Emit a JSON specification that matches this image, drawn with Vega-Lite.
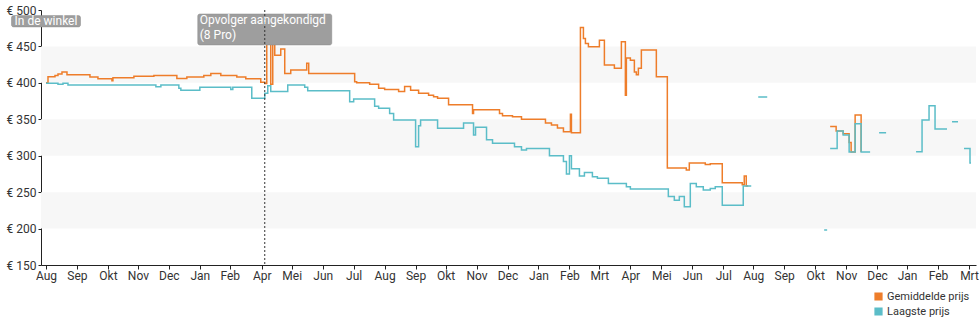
{
  "$schema": "https://vega.github.io/schema/vega-lite/v6.json",
  "width": 935,
  "height": 255,
  "autosize": {"type": "none"},
  "padding": {"left": 41, "top": 10, "right": 4, "bottom": 60},
  "background": "white",
  "config": {
    "view": {"stroke": null},
    "font": "Roboto",
    "axis": {"labelFont": "Roboto", "labelFontSize": 12, "labelColor": "#333333", "domainColor": "#222222", "tickColor": "#222222", "grid": false, "title": null, "labelOverlap": false, "labelFlush": false, "labelBound": false},
    "legend": {"labelFont": "Roboto"}
  },
  "layer": [
    {
      "data": {"values": [{"lo": 200, "hi": 250}, {"lo": 300, "hi": 350}, {"lo": 400, "hi": 450}]},
      "mark": {"type": "rect", "color": "#f7f7f7"},
      "encoding": {
        "y": {"field": "lo", "type": "quantitative", "scale": {"domain": [150, 500], "nice": false, "zero": false},
          "axis": {"values": [150, 200, 250, 300, 350, 400, 450, 500], "tickCount": 100, "labelExpr": "'€ ' + datum.value", "tickSize": 3, "labelPadding": 2, "domainWidth": 1, "labelOverlap": false}},
        "y2": {"field": "hi"}
      }
    },
    {
      "data": {"values": [
        {"d": "2016-08-28", "s": "Gemiddelde prijs", "p": 400},
        {"d": "2016-08-30", "s": "Gemiddelde prijs", "p": 408.5},
        {"d": "2016-09-06", "s": "Gemiddelde prijs", "p": 410},
        {"d": "2016-09-09", "s": "Gemiddelde prijs", "p": 412},
        {"d": "2016-09-13", "s": "Gemiddelde prijs", "p": 415},
        {"d": "2016-09-18", "s": "Gemiddelde prijs", "p": 411},
        {"d": "2016-10-11", "s": "Gemiddelde prijs", "p": 408},
        {"d": "2016-10-19", "s": "Gemiddelde prijs", "p": 405.5},
        {"d": "2016-11-02", "s": "Gemiddelde prijs", "p": 403},
        {"d": "2016-11-03", "s": "Gemiddelde prijs", "p": 407},
        {"d": "2016-11-24", "s": "Gemiddelde prijs", "p": 409},
        {"d": "2016-12-14", "s": "Gemiddelde prijs", "p": 410},
        {"d": "2017-01-06", "s": "Gemiddelde prijs", "p": 406},
        {"d": "2017-01-16", "s": "Gemiddelde prijs", "p": 408},
        {"d": "2017-02-02", "s": "Gemiddelde prijs", "p": 410},
        {"d": "2017-02-09", "s": "Gemiddelde prijs", "p": 413},
        {"d": "2017-02-19", "s": "Gemiddelde prijs", "p": 410},
        {"d": "2017-03-07", "s": "Gemiddelde prijs", "p": 408},
        {"d": "2017-03-16", "s": "Gemiddelde prijs", "p": 405.5},
        {"d": "2017-03-31", "s": "Gemiddelde prijs", "p": 401},
        {"d": "2017-04-04", "s": "Gemiddelde prijs", "p": 399},
        {"d": "2017-04-06", "s": "Gemiddelde prijs", "p": 454},
        {"d": "2017-04-10", "s": "Gemiddelde prijs", "p": 398},
        {"d": "2017-04-12", "s": "Gemiddelde prijs", "p": 454},
        {"d": "2017-04-14", "s": "Gemiddelde prijs", "p": 438},
        {"d": "2017-04-20", "s": "Gemiddelde prijs", "p": 446.5},
        {"d": "2017-04-24", "s": "Gemiddelde prijs", "p": 413},
        {"d": "2017-04-30", "s": "Gemiddelde prijs", "p": 417.6},
        {"d": "2017-05-16", "s": "Gemiddelde prijs", "p": 427},
        {"d": "2017-05-18", "s": "Gemiddelde prijs", "p": 413},
        {"d": "2017-07-03", "s": "Gemiddelde prijs", "p": 401.6},
        {"d": "2017-07-05", "s": "Gemiddelde prijs", "p": 400},
        {"d": "2017-07-18", "s": "Gemiddelde prijs", "p": 398},
        {"d": "2017-07-27", "s": "Gemiddelde prijs", "p": 392.5},
        {"d": "2017-08-02", "s": "Gemiddelde prijs", "p": 391},
        {"d": "2017-08-16", "s": "Gemiddelde prijs", "p": 388},
        {"d": "2017-08-22", "s": "Gemiddelde prijs", "p": 395},
        {"d": "2017-08-28", "s": "Gemiddelde prijs", "p": 390},
        {"d": "2017-09-05", "s": "Gemiddelde prijs", "p": 385.6},
        {"d": "2017-09-15", "s": "Gemiddelde prijs", "p": 383},
        {"d": "2017-09-20", "s": "Gemiddelde prijs", "p": 381},
        {"d": "2017-09-24", "s": "Gemiddelde prijs", "p": 379},
        {"d": "2017-10-05", "s": "Gemiddelde prijs", "p": 370},
        {"d": "2017-10-29", "s": "Gemiddelde prijs", "p": 358},
        {"d": "2017-10-30", "s": "Gemiddelde prijs", "p": 363},
        {"d": "2017-11-25", "s": "Gemiddelde prijs", "p": 358},
        {"d": "2017-11-28", "s": "Gemiddelde prijs", "p": 355},
        {"d": "2017-12-08", "s": "Gemiddelde prijs", "p": 353.6},
        {"d": "2017-12-17", "s": "Gemiddelde prijs", "p": 350},
        {"d": "2018-01-10", "s": "Gemiddelde prijs", "p": 345},
        {"d": "2018-01-16", "s": "Gemiddelde prijs", "p": 342},
        {"d": "2018-01-22", "s": "Gemiddelde prijs", "p": 338},
        {"d": "2018-01-28", "s": "Gemiddelde prijs", "p": 333},
        {"d": "2018-02-04", "s": "Gemiddelde prijs", "p": 357},
        {"d": "2018-02-05", "s": "Gemiddelde prijs", "p": 331.6},
        {"d": "2018-02-14", "s": "Gemiddelde prijs", "p": 476},
        {"d": "2018-02-17", "s": "Gemiddelde prijs", "p": 461},
        {"d": "2018-02-19", "s": "Gemiddelde prijs", "p": 454},
        {"d": "2018-02-22", "s": "Gemiddelde prijs", "p": 449.6},
        {"d": "2018-03-05", "s": "Gemiddelde prijs", "p": 458.5},
        {"d": "2018-03-10", "s": "Gemiddelde prijs", "p": 424.5},
        {"d": "2018-03-20", "s": "Gemiddelde prijs", "p": 420},
        {"d": "2018-03-27", "s": "Gemiddelde prijs", "p": 456.5},
        {"d": "2018-03-31", "s": "Gemiddelde prijs", "p": 383},
        {"d": "2018-04-01", "s": "Gemiddelde prijs", "p": 434},
        {"d": "2018-04-05", "s": "Gemiddelde prijs", "p": 431},
        {"d": "2018-04-09", "s": "Gemiddelde prijs", "p": 415},
        {"d": "2018-04-11", "s": "Gemiddelde prijs", "p": 411},
        {"d": "2018-04-13", "s": "Gemiddelde prijs", "p": 420},
        {"d": "2018-04-16", "s": "Gemiddelde prijs", "p": 445},
        {"d": "2018-05-01", "s": "Gemiddelde prijs", "p": 408.5},
        {"d": "2018-05-12", "s": "Gemiddelde prijs", "p": 283},
        {"d": "2018-05-31", "s": "Gemiddelde prijs", "p": 280.3},
        {"d": "2018-06-03", "s": "Gemiddelde prijs", "p": 290},
        {"d": "2018-06-19", "s": "Gemiddelde prijs", "p": 288},
        {"d": "2018-06-24", "s": "Gemiddelde prijs", "p": 289},
        {"d": "2018-07-06", "s": "Gemiddelde prijs", "p": 263},
        {"d": "2018-07-26", "s": "Gemiddelde prijs", "p": 260},
        {"d": "2018-07-28", "s": "Gemiddelde prijs", "p": 272},
        {"d": "2018-07-30", "s": "Gemiddelde prijs", "p": 258.5},
        {"d": "2018-08-01", "s": "Gemiddelde prijs", "p": 258.5},
        {"d": "2018-08-02", "s": "Gemiddelde prijs", "p": null},
        {"d": "2018-10-22", "s": "Gemiddelde prijs", "p": 340},
        {"d": "2018-10-28", "s": "Gemiddelde prijs", "p": 334},
        {"d": "2018-11-04", "s": "Gemiddelde prijs", "p": 330},
        {"d": "2018-11-10", "s": "Gemiddelde prijs", "p": 318},
        {"d": "2018-11-12", "s": "Gemiddelde prijs", "p": 305},
        {"d": "2018-11-16", "s": "Gemiddelde prijs", "p": 356},
        {"d": "2018-11-22", "s": "Gemiddelde prijs", "p": 305},
        {"d": "2016-08-28", "s": "Laagste prijs", "p": 399.4},
        {"d": "2016-09-09", "s": "Laagste prijs", "p": 398},
        {"d": "2016-09-14", "s": "Laagste prijs", "p": 399.4},
        {"d": "2016-09-19", "s": "Laagste prijs", "p": 397},
        {"d": "2016-12-16", "s": "Laagste prijs", "p": 394.8},
        {"d": "2016-12-21", "s": "Laagste prijs", "p": 397},
        {"d": "2017-01-08", "s": "Laagste prijs", "p": 392.5},
        {"d": "2017-01-10", "s": "Laagste prijs", "p": 390},
        {"d": "2017-01-29", "s": "Laagste prijs", "p": 394},
        {"d": "2017-03-01", "s": "Laagste prijs", "p": 391},
        {"d": "2017-03-03", "s": "Laagste prijs", "p": 394},
        {"d": "2017-03-22", "s": "Laagste prijs", "p": 378.8},
        {"d": "2017-04-04", "s": "Laagste prijs", "p": 385.6},
        {"d": "2017-04-07", "s": "Laagste prijs", "p": 396},
        {"d": "2017-04-10", "s": "Laagste prijs", "p": 388},
        {"d": "2017-04-27", "s": "Laagste prijs", "p": 397},
        {"d": "2017-05-14", "s": "Laagste prijs", "p": 394},
        {"d": "2017-05-17", "s": "Laagste prijs", "p": 389},
        {"d": "2017-06-28", "s": "Laagste prijs", "p": 374},
        {"d": "2017-07-02", "s": "Laagste prijs", "p": 378},
        {"d": "2017-07-23", "s": "Laagste prijs", "p": 368},
        {"d": "2017-07-27", "s": "Laagste prijs", "p": 365},
        {"d": "2017-08-07", "s": "Laagste prijs", "p": 358},
        {"d": "2017-08-11", "s": "Laagste prijs", "p": 349},
        {"d": "2017-09-02", "s": "Laagste prijs", "p": 312.4},
        {"d": "2017-09-05", "s": "Laagste prijs", "p": 341},
        {"d": "2017-09-07", "s": "Laagste prijs", "p": 349},
        {"d": "2017-09-24", "s": "Laagste prijs", "p": 337.6},
        {"d": "2017-10-20", "s": "Laagste prijs", "p": 345},
        {"d": "2017-10-30", "s": "Laagste prijs", "p": 328.4},
        {"d": "2017-11-01", "s": "Laagste prijs", "p": 339},
        {"d": "2017-11-12", "s": "Laagste prijs", "p": 322},
        {"d": "2017-11-18", "s": "Laagste prijs", "p": 317},
        {"d": "2017-12-10", "s": "Laagste prijs", "p": 312.4},
        {"d": "2017-12-17", "s": "Laagste prijs", "p": 308},
        {"d": "2017-12-22", "s": "Laagste prijs", "p": 310},
        {"d": "2018-01-14", "s": "Laagste prijs", "p": 300},
        {"d": "2018-01-28", "s": "Laagste prijs", "p": 292},
        {"d": "2018-01-31", "s": "Laagste prijs", "p": 275},
        {"d": "2018-02-03", "s": "Laagste prijs", "p": 300},
        {"d": "2018-02-05", "s": "Laagste prijs", "p": 282},
        {"d": "2018-02-13", "s": "Laagste prijs", "p": 272},
        {"d": "2018-02-18", "s": "Laagste prijs", "p": 277},
        {"d": "2018-02-26", "s": "Laagste prijs", "p": 271},
        {"d": "2018-03-03", "s": "Laagste prijs", "p": 269},
        {"d": "2018-03-14", "s": "Laagste prijs", "p": 262},
        {"d": "2018-04-01", "s": "Laagste prijs", "p": 257.5},
        {"d": "2018-04-05", "s": "Laagste prijs", "p": 254.3},
        {"d": "2018-05-13", "s": "Laagste prijs", "p": 244},
        {"d": "2018-05-19", "s": "Laagste prijs", "p": 239},
        {"d": "2018-05-24", "s": "Laagste prijs", "p": 244},
        {"d": "2018-05-29", "s": "Laagste prijs", "p": 230},
        {"d": "2018-06-04", "s": "Laagste prijs", "p": 262},
        {"d": "2018-06-10", "s": "Laagste prijs", "p": 257.5},
        {"d": "2018-06-17", "s": "Laagste prijs", "p": 253},
        {"d": "2018-06-24", "s": "Laagste prijs", "p": 255},
        {"d": "2018-06-29", "s": "Laagste prijs", "p": 257.5},
        {"d": "2018-07-06", "s": "Laagste prijs", "p": 232},
        {"d": "2018-07-27", "s": "Laagste prijs", "p": 258.5},
        {"d": "2018-08-04", "s": "Laagste prijs", "p": 258.5},
        {"d": "2018-08-05", "s": "Laagste prijs", "p": null},
        {"d": "2018-08-11", "s": "Laagste prijs", "p": 380.6},
        {"d": "2018-08-20", "s": "Laagste prijs", "p": 380.6},
        {"d": "2018-08-21", "s": "Laagste prijs", "p": null},
        {"d": "2018-10-16", "s": "Laagste prijs", "p": 198},
        {"d": "2018-10-19", "s": "Laagste prijs", "p": 198},
        {"d": "2018-10-20", "s": "Laagste prijs", "p": null},
        {"d": "2018-10-22", "s": "Laagste prijs", "p": 310},
        {"d": "2018-10-29", "s": "Laagste prijs", "p": 334},
        {"d": "2018-11-04", "s": "Laagste prijs", "p": 328.4},
        {"d": "2018-11-10", "s": "Laagste prijs", "p": 305},
        {"d": "2018-11-16", "s": "Laagste prijs", "p": 344},
        {"d": "2018-11-22", "s": "Laagste prijs", "p": 305},
        {"d": "2018-12-01", "s": "Laagste prijs", "p": 305},
        {"d": "2018-12-02", "s": "Laagste prijs", "p": null},
        {"d": "2018-12-10", "s": "Laagste prijs", "p": 331.6},
        {"d": "2018-12-17", "s": "Laagste prijs", "p": 331.6},
        {"d": "2018-12-18", "s": "Laagste prijs", "p": null},
        {"d": "2019-01-16", "s": "Laagste prijs", "p": 305.5},
        {"d": "2019-01-22", "s": "Laagste prijs", "p": 349},
        {"d": "2019-01-29", "s": "Laagste prijs", "p": 368.7},
        {"d": "2019-02-04", "s": "Laagste prijs", "p": 336.7},
        {"d": "2019-02-16", "s": "Laagste prijs", "p": 336.7},
        {"d": "2019-02-17", "s": "Laagste prijs", "p": null},
        {"d": "2019-02-21", "s": "Laagste prijs", "p": 346.7},
        {"d": "2019-02-27", "s": "Laagste prijs", "p": 346.7},
        {"d": "2019-02-28", "s": "Laagste prijs", "p": null},
        {"d": "2019-03-05", "s": "Laagste prijs", "p": 310},
        {"d": "2019-03-11", "s": "Laagste prijs", "p": 290},
        {"d": "2019-03-12", "s": "Laagste prijs", "p": 290}
      ]},
      "mark": {"type": "line", "interpolate": "step-after", "strokeWidth": 1.5, "invalid": "break-paths-show-domains"},
      "encoding": {
        "x": {"field": "d", "type": "temporal",
          "scale": {"type": "utc", "domain": [{"year": 2016, "month": 8, "date": 28, "utc": true}, {"year": 2019, "month": 3, "date": 12, "utc": true}]},
          "axis": {
            "values": [
              {"year": 2016, "month": 8, "date": 28, "utc": true},
              {"year": 2016, "month": 9, "date": 28, "utc": true},
              {"year": 2016, "month": 10, "date": 29, "utc": true},
              {"year": 2016, "month": 11, "date": 28, "utc": true},
              {"year": 2016, "month": 12, "date": 29, "utc": true},
              {"year": 2017, "month": 1, "date": 29, "utc": true},
              {"year": 2017, "month": 2, "date": 28, "utc": true},
              {"year": 2017, "month": 4, "date": 1, "utc": true},
              {"year": 2017, "month": 5, "date": 1, "utc": true},
              {"year": 2017, "month": 6, "date": 1, "utc": true},
              {"year": 2017, "month": 7, "date": 2, "utc": true},
              {"year": 2017, "month": 8, "date": 2, "utc": true},
              {"year": 2017, "month": 9, "date": 2, "utc": true},
              {"year": 2017, "month": 10, "date": 2, "utc": true},
              {"year": 2017, "month": 11, "date": 2, "utc": true},
              {"year": 2017, "month": 12, "date": 3, "utc": true},
              {"year": 2018, "month": 1, "date": 3, "utc": true},
              {"year": 2018, "month": 2, "date": 3, "utc": true},
              {"year": 2018, "month": 3, "date": 5, "utc": true},
              {"year": 2018, "month": 4, "date": 5, "utc": true},
              {"year": 2018, "month": 5, "date": 6, "utc": true},
              {"year": 2018, "month": 6, "date": 6, "utc": true},
              {"year": 2018, "month": 7, "date": 7, "utc": true},
              {"year": 2018, "month": 8, "date": 6, "utc": true},
              {"year": 2018, "month": 9, "date": 6, "utc": true},
              {"year": 2018, "month": 10, "date": 7, "utc": true},
              {"year": 2018, "month": 11, "date": 7, "utc": true},
              {"year": 2018, "month": 12, "date": 8, "utc": true},
              {"year": 2019, "month": 1, "date": 7, "utc": true},
              {"year": 2019, "month": 2, "date": 7, "utc": true},
              {"year": 2019, "month": 3, "date": 10, "utc": true}
            ],
            "tickCount": 100,
            "labelExpr": "['Jan','Feb','Mrt','Apr','Mei','Jun','Jul','Aug','Sep','Okt','Nov','Dec'][utcmonth(datum.value)]",
            "tickSize": 4, "labelPadding": 1, "labelOverlap": false, "labelFlush": false, "domainWidth": 1
          }},
        "y": {"field": "p", "type": "quantitative"},
        "color": {"field": "s", "type": "nominal",
          "scale": {"domain": ["Gemiddelde prijs", "Laagste prijs"], "range": ["#ee7d2a", "#5bbdc8"]},
          "legend": {"orient": "none", "legendX": 832, "legendY": 281, "title": null, "symbolType": "square", "symbolSize": 45, "labelFontSize": 11, "labelColor": "#333333", "rowPadding": 2, "labelOffset": 3,
            "encode": {"symbols": {"update": {"fill": {"scale": "color", "field": "value"}, "stroke": {"value": "transparent"}}}}}}
      }
    },
    {
      "data": {"values": [{"d": "2016-08-28", "t": "In de winkel"}]},
      "layer": [
        {"mark": {"type": "bar", "width": 69, "color": "#9e9e9e", "cornerRadius": 2, "stroke": "#8a8a8a", "strokeWidth": 0.5},
          "encoding": {"x": {"field": "d", "type": "temporal", "scale": {"type": "utc"}}, "y": {"datum": 492.3}, "y2": {"datum": 476.8}}},
        {"mark": {"type": "text", "color": "white", "fontSize": 12, "align": "center", "baseline": "middle", "font": "Roboto"},
          "encoding": {"x": {"field": "d", "type": "temporal", "scale": {"type": "utc"}}, "y": {"datum": 484.4}, "text": {"field": "t"}}}
      ]
    },
    {
      "data": {"values": [{"d": "2017-04-04", "t": "Opvolger aangekondigd\n(8 Pro)"}]},
      "layer": [
        {"mark": {"type": "bar", "width": 134, "color": "#9e9e9e", "cornerRadius": 2, "stroke": "#8a8a8a", "strokeWidth": 0.5},
          "encoding": {"x": {"field": "d", "type": "temporal", "scale": {"type": "utc"}}, "y": {"datum": 494.5}, "y2": {"datum": 452}}},
        {"mark": {"type": "rule", "color": "#333333", "strokeDash": [2, 2], "strokeWidth": 1},
          "encoding": {"x": {"field": "d", "type": "temporal", "scale": {"type": "utc"}}}},
        {"mark": {"type": "text", "color": "white", "fontSize": 12, "align": "left", "baseline": "top", "dx": -65, "lineBreak": "\n", "lineHeight": 15, "font": "Roboto"},
          "encoding": {"x": {"field": "d", "type": "temporal", "scale": {"type": "utc"}}, "y": {"datum": 493.2}, "text": {"field": "t"}}}
      ]
    }
  ]
}
